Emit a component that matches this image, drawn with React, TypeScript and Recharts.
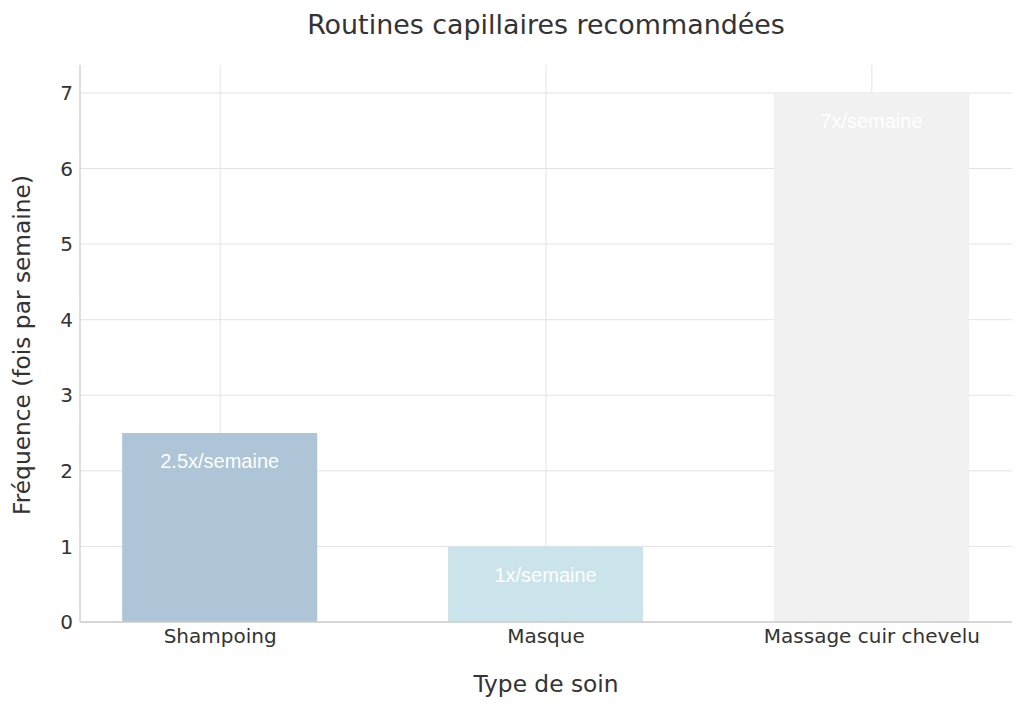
import React from "react";
import { BarChart, Bar, XAxis, YAxis, CartesianGrid, Cell, LabelList } from "recharts";

const categories = ["Shampoing", "Masque", "Massage cuir chevelu"];
const frequencies = [2.5, 1, 7];
const barLabels = ["2.5x/semaine", "1x/semaine", "7x/semaine"];
const barColors = ["#aec4d7", "#cbe3ea", "#f1f1f1"];
const yTicks = [0, 1, 2, 3, 4, 5, 6, 7];
const xTicks = [0, 1, 2];

const data = categories.map((name, i) => ({
  x: i,
  name,
  value: frequencies[i],
  label: barLabels[i],
}));

const TEXT = "#333333";
const FONT = "'DejaVu Sans', sans-serif";

export default function App() {
  return (
    <div style={{ position: "absolute", left: 0, top: 0, width: 1024, height: 708, background: "#fff", fontFamily: FONT }}>
      <BarChart
        width={1024}
        height={708}
        data={data}
        margin={{ top: 65, right: 12, bottom: 46, left: 20 }}
      >
        <CartesianGrid stroke="#e3e3e3" strokeWidth={1} syncWithTicks />
        <XAxis
          dataKey="x"
          type="number"
          domain={[-0.43, 2.43]}
          ticks={xTicks}
          allowDataOverflow
          tickFormatter={(v: number) => categories[v]}
          tickLine={false}
          tickSize={0}
          tickMargin={7}
          height={40}
          axisLine={{ stroke: "#cccccc", strokeWidth: 1.3 }}
          tick={{ fill: TEXT, fontSize: 20, fontFamily: FONT }}
        />
        <YAxis
          type="number"
          domain={[0, 7.37]}
          ticks={yTicks}
          allowDataOverflow
          tickLine={false}
          tickSize={0}
          tickMargin={7}
          width={60}
          axisLine={{ stroke: "#cccccc", strokeWidth: 1.3 }}
          tick={{ fill: TEXT, fontSize: 20, fontFamily: FONT }}
        />
        <Bar dataKey="value" barSize={195} isAnimationActive={false}>
          {data.map((d, i) => (
            <Cell key={d.name} fill={barColors[i]} />
          ))}
          <LabelList
            dataKey="label"
            position="insideTop"
            offset={21}
            fill="#ffffff"
            style={{ fontSize: 20, fontFamily: "'Liberation Sans', Arial, sans-serif" }}
          />
        </Bar>
      </BarChart>
      <div style={{ position: "absolute", left: 80, width: 932, top: 25, transform: "translateY(-50%)", textAlign: "center", fontSize: 26.9, color: TEXT, lineHeight: 1 }}>
        Routines capillaires recommandées
      </div>
      <div style={{ position: "absolute", left: 80, width: 932, top: 684, transform: "translateY(-50%)", textAlign: "center", fontSize: 23.3, color: TEXT, lineHeight: 1 }}>
        Type de soin
      </div>
      <div style={{ position: "absolute", left: 22, top: 345, transform: "translate(-50%, -50%) rotate(-90deg)", whiteSpace: "nowrap", fontSize: 23.3, color: TEXT, lineHeight: 1 }}>
        Fréquence (fois par semaine)
      </div>
    </div>
  );
}
